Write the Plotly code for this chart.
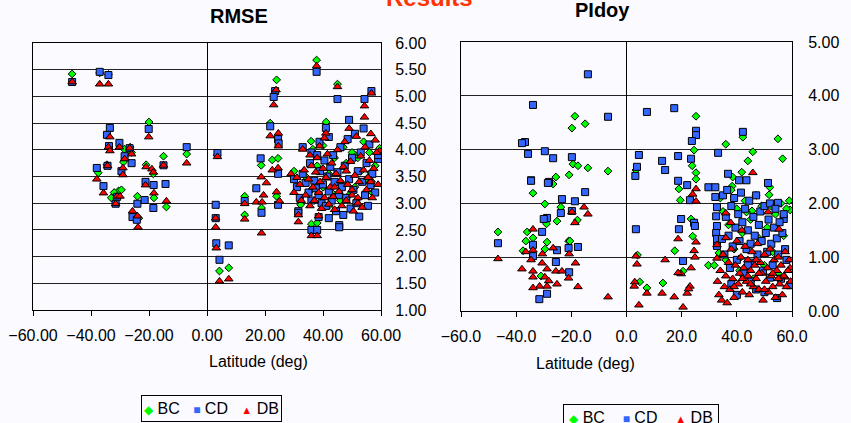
import plotly.graph_objects as go

# ---------------- DATA (latitude deg, value) ----------------
rmse_bc = [(-46.5, 5.42), (-37, 5.44), (-34, 5.41), (-37.5, 3.57), (-34.5, 3.72), (-30.5, 3.23), (-29.5, 3.25),
           (-28.5, 4.01), (-28.8, 3.77), (-26.5, 4.05), (-24, 3.13), (-23.5, 2.72), (-21, 3.72), (-20, 4.52),
           (-18.5, 3.55), (-18.3, 3.10), (-15, 3.88), (-14, 2.93), (-7, 3.92), (-26, 3.95), (-32, 3.20), (-33, 3.10),
           (3.5, 3.90), (4.3, 1.73), (7.5, 1.79), (13, 3.13), (13, 2.78), (18.8, 2.91), (18.7, 3.71), (22.5, 3.81),
           (24.5, 3.84), (24, 3.13), (21.8, 4.50), (24, 5.31), (37.8, 5.68), (45, 5.23), (41.1, 4.52), (35.9, 4.16),
           (36.5, 4.01), (32.3, 2.97), (36, 2.61), (38, 2.63), (51, 3.90), (56.6, 3.57), (59.5, 4.03),
           (30, 3.60), (34, 3.50), (36, 3.25), (38, 3.70), (40, 4.08), (42, 3.55), (43, 3.20), (44, 3.85), (46, 3.40),
           (47, 4.05), (48, 3.75), (49, 3.15), (50, 3.95), (51, 3.30), (52, 3.85), (53, 3.60), (54, 4.15), (55, 3.45),
           (56, 3.95), (57, 3.20), (58, 3.70), (46, 3.05), (40, 3.30), (42, 2.95)]
rmse_cd = [(-46.5, 5.27), (-37, 5.46), (-34, 5.40), (-33.5, 4.41), (-34.5, 4.28), (-33.8, 4.07), (-30.2, 4.13),
           (-28.4, 3.88), (-26.7, 4.03), (-26, 3.75), (-20.1, 4.39), (-15, 3.71), (-7, 4.05), (-38, 3.66),
           (-35.7, 3.32), (-34.3, 3.70), (-29.5, 3.60), (-21.2, 3.40), (-18.4, 3.34), (-14.3, 3.36), (-31, 3.12),
           (-31.5, 2.99), (-24, 2.99), (-21.5, 3.06), (-18.5, 2.91), (-25.7, 2.74), (-24.2, 2.69),
           (3.6, 3.94), (3, 2.97), (3, 2.72), (3.2, 2.25), (4.3, 1.94), (7.5, 2.21), (13, 3.04), (17, 3.28),
           (18.8, 2.82), (18.5, 3.84), (24.5, 3.55), (24.5, 4.20), (24.7, 4.12), (24.5, 2.97), (21.8, 4.44),
           (23.5, 5.10), (23, 4.99), (37.8, 5.46), (45, 4.95), (56.7, 5.10), (54.3, 4.95), (49, 4.56), (41, 4.41),
           (42, 4.24), (38.8, 4.15), (33, 4.05), (36, 3.95), (59, 3.83), (56.4, 3.34), (31.5, 2.85), (31.5, 2.82),
           (36, 2.50), (38, 2.50), (38.5, 2.74), (42, 2.72), (45.6, 2.59), (45.6, 2.55),
           (30, 3.45), (31, 3.30), (32, 3.10), (33, 3.55), (34, 3.38), (35, 3.20), (35.5, 3.75), (36, 3.05),
           (37, 3.42), (37.5, 3.28), (38, 3.90), (38.5, 3.15), (39, 3.60), (39.5, 3.00), (40, 3.35), (40.5, 3.80),
           (41, 2.95), (41.5, 3.50), (42, 3.22), (42.5, 3.68), (43, 3.05), (43.5, 3.90), (44, 3.40), (44.5, 2.85),
           (45, 3.58), (45.5, 3.15), (46, 4.05), (46.5, 3.30), (47, 2.78), (47.5, 3.70), (48, 3.10), (48.5, 4.20),
           (49, 3.45), (49.5, 2.90), (50, 3.85), (50.5, 3.25), (51, 4.30), (51.5, 3.00), (52, 3.60), (52.5, 2.75),
           (53, 3.95), (53.5, 3.40), (54, 4.40), (54.5, 3.15), (55, 3.75), (55.5, 2.95), (56, 4.10), (57, 3.55),
           (58, 3.20), (59, 3.90)]
rmse_db = [(-46.5, 5.27), (-37, 5.23), (-34, 5.23), (-33.5, 4.24), (-34, 4.05), (-33.5, 3.98), (-30.2, 4.05),
           (-28.4, 3.83), (-26.7, 4.03), (-26, 3.92), (-20.1, 4.24), (-15, 3.71), (-7, 3.75), (-38, 3.45),
           (-34.3, 3.70), (-29, 3.66), (-29, 3.53), (-21, 3.68), (-19, 3.64), (-18.5, 3.58), (-21.2, 3.34),
           (-35.7, 3.19), (-31, 3.13), (-30, 3.13), (-31.5, 2.99), (-18.3, 3.19), (-14, 3.04), (-25.7, 2.85),
           (-24, 2.76), (-23.8, 2.55),
           (3.6, 3.87), (3, 2.72), (3, 2.55), (3.2, 2.16), (4.3, 1.54), (7.5, 1.58), (13, 2.99), (13, 2.70),
           (17, 3.02), (18.8, 2.44), (19, 3.02), (19.5, 3.15), (24, 3.21), (25, 3.04), (18.7, 3.49), (20.5, 3.38),
           (22.5, 3.62), (24.5, 3.66), (21.8, 4.26), (24.6, 4.31), (24.6, 4.07), (23.8, 5.12), (23, 4.84),
           (37.8, 5.57), (45, 5.18), (56.7, 5.06), (54.3, 4.82), (54.3, 4.61), (41, 4.31), (40.5, 4.22),
           (38.8, 4.07), (33, 4.01), (35.5, 3.90), (59.5, 3.98), (56.6, 3.43), (56.4, 3.40), (31.5, 2.78),
           (31.5, 2.65), (36, 2.39), (38, 2.39), (38.5, 2.76),
           (29, 3.55), (30, 3.20), (31, 3.48), (32, 3.35), (32.5, 3.05), (33.5, 3.62), (34, 3.15), (35, 3.45),
           (35.5, 2.95), (36, 3.70), (36.5, 3.30), (37, 3.05), (37.5, 3.58), (38, 3.85), (38.5, 3.20), (39, 3.40),
           (39.5, 2.90), (40, 3.65), (40.5, 3.10), (41, 3.48), (41.5, 3.92), (42, 2.98), (42.5, 3.30), (43, 3.75),
           (43.5, 3.12), (44, 2.88), (44.5, 3.55), (45, 4.00), (45.5, 3.22), (46, 3.42), (46.5, 2.95), (47, 3.68),
           (47.5, 4.15), (48, 3.05), (48.5, 3.35), (49, 4.40), (49.5, 3.78), (50, 3.15), (50.5, 2.85), (51, 3.52),
           (51.5, 4.25), (52, 3.00), (52.5, 3.40), (53, 3.88), (53.5, 2.92), (54, 3.62), (54.5, 4.05), (55, 3.25),
           (55.5, 3.48), (56, 3.80), (56.5, 4.30), (57, 3.10), (57.5, 3.65), (58, 4.18), (58.5, 3.95), (59, 3.35),
           (44, 3.30), (48, 3.60), (50, 3.25), (52, 3.10)]

pidoy_bc = [(-46.6, 1.47), (-36, 1.47), (-36.5, 1.30), (-33.9, 1.36), (-28.8, 1.28), (-21, 1.30), (-37.5, 1.12),
            (-29.6, 1.15), (-33.9, 2.19), (-29.6, 1.99), (-23.8, 1.93), (-25.2, 1.67), (-29, 1.62), (-17.8, 1.69),
            (-18.7, 3.62), (-15, 3.48), (-19.8, 3.40), (-19.4, 2.73), (-17.6, 2.70), (-14, 2.66), (-6.7, 2.60),
            (-20.8, 2.53), (-25.6, 2.49), (-26.6, 2.36), (-31, 0.65), (-20.5, 1.30),
            (3.4, 2.62), (4, 1.04), (4.8, 0.54), (7.4, 0.43), (13.2, 0.52), (17.5, 1.12), (20.5, 0.74), (19.5, 2.06),
            (19, 2.27), (23.4, 1.71), (24, 1.39), (25.2, 3.62), (24.5, 2.99), (23.8, 2.70), (25.2, 2.57),
            (25.2, 2.45), (36, 3.10), (42.2, 3.23), (45.8, 2.96), (54.9, 3.20), (56.6, 2.83), (44, 2.79),
            (38.5, 2.49), (41.8, 2.58), (29.7, 0.85), (31.8, 0.85), (38.3, 2.32), (51.7, 2.16), (59.3, 1.88),
            (52.5, 1.95), (45.5, 1.86), (43.5, 1.84), (40.8, 0.97), (40, 0.28), (33.5, 1.08),
            (34, 2.10), (35, 1.85), (36, 0.95), (37, 1.60), (38, 2.25), (39, 1.15), (40, 1.90), (41, 0.75),
            (42, 1.45), (43, 2.05), (44, 1.20), (45, 1.70), (46, 0.60), (47, 2.15), (48, 1.35), (49, 1.95),
            (50, 0.85), (51, 1.55), (52, 2.30), (53, 1.10), (54, 1.80), (55, 0.70), (56, 2.00), (57, 1.40),
            (58, 1.90), (59, 2.05)]
pidoy_cd = [(-14, 4.40), (-33.9, 3.83), (-6.7, 3.61), (-36.8, 3.14), (-37.9, 3.12), (-35.7, 2.92), (-29.6, 2.97),
            (-26.6, 2.84), (-19.8, 2.86), (-34.6, 2.43), (-28.1, 2.40), (-34.6, 2.42), (-28.5, 2.38), (-23.4, 2.08),
            (-18.7, 2.04), (-15, 2.21), (-23.8, 1.82), (-19.8, 1.86), (-28.8, 1.73), (-30, 1.71), (-46.6, 1.26),
            (-30.6, 1.47), (-33.9, 1.23), (-21, 1.17), (-17.6, 1.19), (-25.2, 1.13), (-33.9, 1.02), (-25.6, 0.91),
            (-20.8, 0.72), (-28.8, 0.32), (-31.6, 0.22),
            (7.4, 3.70), (17.3, 3.77), (25.2, 3.35), (25.2, 3.27), (23.7, 3.16), (42.2, 3.33), (4.5, 2.90),
            (3.8, 2.68), (3.2, 2.51), (12.9, 2.79), (14, 2.62), (18.7, 2.88), (23.4, 2.83), (33.2, 2.94),
            (36.8, 2.55), (40.8, 2.43), (43.5, 2.43), (51.3, 2.38), (18.7, 2.42), (22, 2.34), (3.4, 1.52),
            (19.8, 1.71), (19, 1.52), (20.5, 0.93), (24.5, 1.64), (24.8, 1.58), (23, 2.06),
            (29.7, 2.30), (32.2, 2.30), (32.2, 2.12), (32.8, 1.93), (32.5, 1.76), (32.8, 1.58), (32.5, 1.45),
            (32.8, 1.34), (32.8, 1.21), (34.6, 1.34), (59.3, 0.48), (54.6, 0.24), (57, 1.71), (54.9, 2.01),
            (35, 2.15), (35.5, 1.05), (36, 1.75), (36.5, 2.25), (37, 1.40), (37.5, 0.80), (38, 1.95), (38.5, 1.20),
            (39, 2.10), (39.5, 1.55), (40, 0.95), (40.5, 1.80), (41, 1.30), (41.5, 2.20), (42, 1.65), (42.5, 0.70),
            (43, 1.90), (43.5, 1.15), (44, 1.50), (44.5, 2.05), (45, 1.25), (45.5, 0.90), (46, 1.75), (46.5, 1.40),
            (47, 2.15), (47.5, 1.05), (48, 1.60), (48.5, 1.85), (49, 1.30), (49.5, 0.75), (50, 1.95), (50.5, 1.45),
            (51, 1.10), (51.5, 1.70), (52, 2.00), (52.5, 1.25), (53, 0.85), (53.5, 1.55), (54, 1.90), (54.5, 1.35),
            (55, 1.05), (55.5, 1.65), (56, 0.60), (56.5, 1.45), (57, 1.80), (57.5, 1.15), (58, 0.95), (45, 0.55),
            (47, 0.40), (50, 0.35), (52, 0.62), (44, 0.85), (38, 0.50), (40, 0.30)]
pidoy_db = [(-46.6, 0.97), (-33.9, 1.52), (-19.8, 1.84), (-15.4, 1.93), (-14, 1.80), (-18.7, 1.64), (-33.9, 1.13),
            (-36.5, 1.10), (-30.5, 1.06), (-26.6, 1.17), (-20.8, 1.06), (-34.6, 0.95), (-30.6, 0.89), (-18.5, 0.89),
            (-37.9, 0.78), (-33.9, 0.74), (-28.8, 0.78), (-25.6, 0.74), (-23.4, 0.74), (-33.9, 0.63), (-29.6, 0.63),
            (-21, 0.61), (-28.2, 0.56), (-25.2, 0.50), (-31.5, 0.46), (-33.9, 0.43), (-28.8, 0.46), (-17.6, 0.45),
            (-6.7, 0.26),
            (3.4, 1.02), (3.8, 0.87), (3, 0.54), (2.8, 0.46), (4.5, 0.11), (7.4, 0.33), (12.9, 0.33), (14, 0.95),
            (17.3, 0.26), (20.5, 0.07), (18.7, 1.34), (19.8, 0.69), (18.7, 0.71), (23.4, 0.80), (23, 0.46),
            (22, 0.33), (22.5, 0.41), (25.2, 1.28), (24.5, 1.12), (24.8, 1.00), (24, 2.17), (25.2, 2.27),
            (25.2, 2.04), (32.8, 0.98), (32.8, 1.23), (36, 1.82), (37.8, 1.64), (36, 1.36), (45.8, 2.57),
            (51.3, 1.84), (55.3, 1.52), (41.8, 1.50), (59.3, 0.80), (57.5, 0.63),
            (33, 0.55), (33.5, 0.30), (34, 0.75), (34.5, 0.20), (35, 1.05), (35.5, 0.45), (36, 0.65), (36.5, 0.15),
            (37, 0.90), (37.5, 0.40), (38, 1.15), (38.5, 0.60), (39, 0.25), (39.5, 0.85), (40, 1.30), (40.5, 0.50),
            (41, 0.70), (41.5, 1.00), (42, 0.35), (42.5, 0.80), (43, 1.20), (43.5, 0.55), (44, 0.95), (44.5, 0.30),
            (45, 0.75), (45.5, 1.10), (46, 0.45), (46.5, 0.85), (47, 0.60), (47.5, 1.25), (48, 0.40), (48.5, 0.90),
            (49, 0.70), (49.5, 0.20), (50, 1.05), (50.5, 0.55), (51, 0.80), (51.5, 0.35), (52, 1.15), (52.5, 0.65),
            (53, 0.45), (53.5, 0.95), (54, 0.25), (54.5, 0.75), (55, 1.00), (55.5, 0.50), (56, 0.85), (56.5, 0.30),
            (57, 0.65), (57.5, 1.10), (58, 0.45), (58.5, 0.75), (59, 0.95), (59.5, 0.55), (42, 0.60), (45, 0.50),
            (48, 0.70), (50, 0.40), (53, 0.70), (55, 0.60), (47, 0.95), (44, 0.65), (39, 0.45)]

series_names = ["BC", "CD", "DB"]
x_ticks = [-60, -40, -20, 0, 20, 40, 60]
rmse_ticks = [1.0, 1.5, 2.0, 2.5, 3.0, 3.5, 4.0, 4.5, 5.0, 5.5, 6.0]
pidoy_ticks = [0, 1, 2, 3, 4, 5]

# ---------------- STYLE ----------------
FONT = "Liberation Sans, Arial, sans-serif"
BG = "#FAFAFF"
W, H = 851, 423
styles = {
    "BC": dict(symbol="diamond", size=6, color="#00FF00", glyph="\u25C6", gsize=12),
    "CD": dict(symbol="square", size=7, color="#3366FF", glyph="\u25A0", gsize=12),
    "DB": dict(symbol="triangle-up", size=7.5, color="#FF0000", glyph="\u25B2", gsize=11),
}

fig = go.Figure()
for data, name in zip([rmse_bc, rmse_cd, rmse_db], series_names):
    st = styles[name]
    fig.add_trace(go.Scatter(
        x=[p[0] for p in data], y=[p[1] for p in data], mode="markers", name=name,
        xaxis="x", yaxis="y", showlegend=False,
        marker=dict(symbol=st["symbol"], size=st["size"], color=st["color"],
                    line=dict(color="black", width=1))))
for data, name in zip([pidoy_bc, pidoy_cd, pidoy_db], series_names):
    st = styles[name]
    fig.add_trace(go.Scatter(
        x=[p[0] for p in data], y=[p[1] for p in data], mode="markers", name=name,
        xaxis="x2", yaxis="y2", showlegend=False,
        marker=dict(symbol=st["symbol"], size=st["size"], color=st["color"],
                    line=dict(color="black", width=1))))

def px_x(p):
    return p / W

def px_y(p):
    return 1 - p / H

def legend_text(sep):
    parts = []
    for name in series_names:
        st = styles[name]
        parts.append("<span style='font-size:%dpx;color:%s'>%s</span> %s" % (st["gsize"], st["color"], st["glyph"], name))
    return sep.join(parts)

common_x = dict(range=[-60, 60], tickvals=x_ticks, ticks="outside", ticklen=5, tickcolor="black",
                showline=True, mirror=True, linecolor="black", linewidth=1, showgrid=False,
                zeroline=True, zerolinecolor="black", zerolinewidth=1, automargin=False,
                tickfont=dict(family=FONT, size=16, color="black"), ticklabelstandoff=6)
common_y = dict(side="right", ticks="", showline=True, mirror=True, linecolor="black", linewidth=1,
                showgrid=True, gridcolor="#222222", gridwidth=1, zeroline=False, automargin=False,
                tickfont=dict(family=FONT, size=16, color="black"))

fig.update_layout(
    width=W, height=H, margin=dict(l=0, r=0, t=0, b=0, autoexpand=False),
    paper_bgcolor=BG, plot_bgcolor=BG, showlegend=False,
    xaxis=dict(domain=[px_x(33), px_x(381)], anchor="y", tickformat=".2f", **common_x),
    yaxis=dict(domain=[px_y(310), px_y(43)], anchor="x", range=[1, 6], tickvals=rmse_ticks,
               tickformat=".2f", ticklabelstandoff=10, **common_y),
    xaxis2=dict(domain=[px_x(461), px_x(792)], anchor="y2", tickformat=".1f", **common_x),
    yaxis2=dict(domain=[px_y(311), px_y(42)], anchor="x2", range=[0, 5], tickvals=pidoy_ticks,
                tickformat=".2f", ticklabelstandoff=12, **common_y),
    annotations=[
        dict(text="<b>Results</b>", x=px_x(430), y=px_y(-2), xref="paper", yref="paper",
             showarrow=False, font=dict(family=FONT, size=24, color="#FF3300"), yanchor="middle"),
        dict(text="<b>RMSE</b>", x=px_x(208), y=px_y(16), xref="paper", yref="paper",
             showarrow=False, font=dict(family=FONT, size=20, color="black"), yanchor="middle"),
        dict(text="<b>PIdoy</b>", x=px_x(632), y=px_y(10), xref="paper", yref="paper",
             showarrow=False, font=dict(family=FONT, size=20, color="black"), yanchor="middle"),
        dict(text="Latitude (deg)", x=px_x(207), y=px_y(361), xref="paper", yref="paper",
             showarrow=False, font=dict(family=FONT, size=16, color="black"), yanchor="middle"),
        dict(text="Latitude (deg)", x=px_x(637), y=px_y(363), xref="paper", yref="paper",
             showarrow=False, font=dict(family=FONT, size=16, color="black"), yanchor="middle"),
        dict(text=legend_text("&nbsp;&nbsp;&nbsp;"), x=px_x(211.5), y=px_y(408.5), xref="paper", yref="paper",
             showarrow=False, font=dict(family=FONT, size=16, color="black"), xanchor="center", yanchor="middle",
             width=135, height=21, borderpad=2, bordercolor="black", borderwidth=1, bgcolor=BG),
        dict(text=legend_text("&nbsp;&nbsp;&nbsp;&nbsp;"), x=px_x(641), y=px_y(417), xref="paper", yref="paper",
             showarrow=False, font=dict(family=FONT, size=16, color="black"), xanchor="center", yanchor="middle",
             width=150, height=21, borderpad=2, bordercolor="black", borderwidth=1, bgcolor=BG),
    ],
)

fig.write_html("out.html", config={"displayModeBar": False},
               post_script="document.body.style.margin='0px';document.body.style.overflow='hidden';")
